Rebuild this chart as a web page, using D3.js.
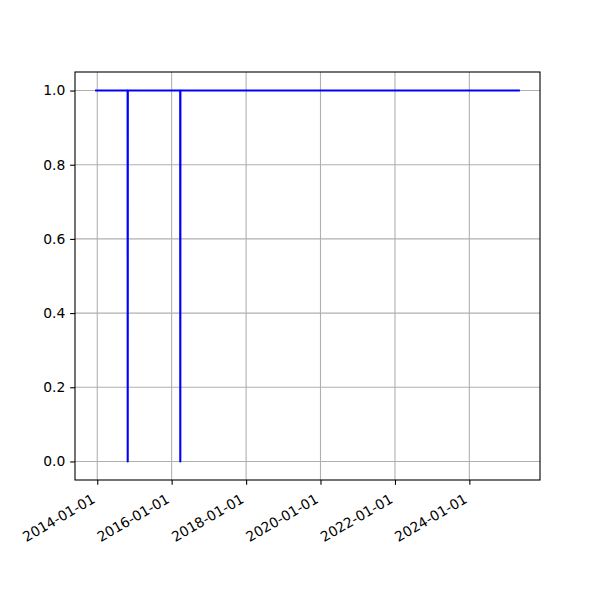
<!DOCTYPE html>
<html><head><meta charset="utf-8">
<script src="https://cdn.jsdelivr.net/npm/d3@7"></script>
<style>body{margin:0;background:#fff}svg{display:block}text{font-family:"DejaVu Sans";}</style>
</head><body>
<script>
// Series: value 1 throughout, with two single-day drops to 0
const dates = ["2013-12-21","2014-10-26","2014-10-27","2014-10-28","2016-03-25","2016-03-26","2016-03-27","2025-05-01"];
const values = [1, 1, 0, 1, 1, 0, 1, 1];
const xTickLabels = ["2014-01-01","2016-01-01","2018-01-01","2020-01-01","2022-01-01","2024-01-01"];
const yTicks = [0.0, 0.2, 0.4, 0.6, 0.8, 1.0];

(function () {
const W = 600, H = 600;
const m = {left: 75, right: 540, top: 72, bottom: 480};
const fs = 13.89;
const parse = d3.utcParse("%Y-%m-%d");
const data = dates.map((d, i) => ({date: parse(d), value: values[i]}));

const svg = d3.select("body").append("svg").attr("width", W).attr("height", H);

const ext = d3.extent(data, d => d.date);
const span = ext[1] - ext[0];
const x = d3.scaleUtc()
  .domain([new Date(+ext[0] - span * 0.05), new Date(+ext[1] + span * 0.05)])
  .range([m.left, m.right]);
const y = d3.scaleLinear().domain([-0.05, 1.05]).range([m.bottom, m.top]);

const xTicks = xTickLabels.map(parse);

// grid
const g = svg.append("g");
g.selectAll(".gx").data(xTicks).enter().append("line")
  .attr("x1", d => x(d)).attr("x2", d => x(d)).attr("y1", m.top).attr("y2", m.bottom)
  .attr("stroke", "#b0b0b0").attr("stroke-width", 1.1);
g.selectAll(".gy").data(yTicks).enter().append("line")
  .attr("y1", d => y(d)).attr("y2", d => y(d)).attr("x1", m.left).attr("x2", m.right)
  .attr("stroke", "#b0b0b0").attr("stroke-width", 1.1);

// line
const line = d3.line().x(d => x(d.date)).y(d => y(d.value));
svg.append("path").datum(data).attr("d", line)
  .attr("fill", "none").attr("stroke", "#0000ff").attr("stroke-width", 2.08)
  .attr("stroke-linecap", "square").attr("stroke-linejoin", "round");

// axes frame
svg.append("rect").attr("x", m.left).attr("y", m.top)
  .attr("width", m.right - m.left).attr("height", m.bottom - m.top)
  .attr("fill", "none").attr("stroke", "#000").attr("stroke-width", 1.1);

// y axis ticks and labels
const yAxis = d3.axisLeft(y).tickValues(yTicks).tickFormat(d3.format(".1f")).tickSize(4.86).tickPadding(4.86);
const ya = svg.append("g").attr("transform", `translate(${m.left},0)`).call(yAxis);
ya.select(".domain").remove();
ya.selectAll("line").attr("stroke", "#000").attr("stroke-width", 1.1);
ya.selectAll("text").attr("font-size", fs).attr("font-family", "DejaVu Sans").attr("fill", "#000");

// x axis ticks
const xAxis = d3.axisBottom(x).tickValues(xTicks).tickFormat("").tickSize(4.86);
const xa = svg.append("g").attr("transform", `translate(0,${m.bottom})`).call(xAxis);
xa.select(".domain").remove();
xa.selectAll("line").attr("stroke", "#000").attr("stroke-width", 1.1);

// rotated x labels (30 deg, right aligned)
const asc = 0.76 * fs, dsc = 0.236 * fs;
const labTop = m.bottom + 4.86 + 4.86 + 3;
svg.append("g").selectAll("text").data(xTicks).enter().append("text")
  .attr("transform", d => `translate(${x(d) - 0.5 * dsc + 0.5},${labTop + 0.866 * asc}) rotate(-30)`)
  .attr("text-anchor", "end").attr("font-size", fs).attr("fill", "#000")
  .text((d, i) => xTickLabels[i]);
})();
</script>
</body></html>
